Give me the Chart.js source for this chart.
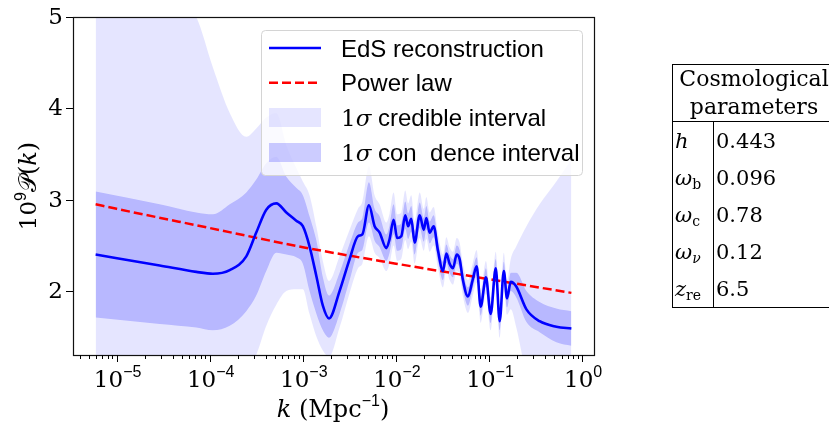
<!DOCTYPE html>
<html>
<head>
<meta charset="utf-8">
<script src="https://cdn.jsdelivr.net/npm/chart.js@4.4.1/dist/chart.umd.min.js"></script>
<style>
  html, body { margin: 0; padding: 0; background: #fff; }
  #wrap { position: relative; width: 829px; height: 429px; overflow: hidden; }
  #plot { position: absolute; left: 0; top: 0; }
  #params {
    position: absolute; left: 672px; top: 64px; width: 164px;
    border-collapse: collapse; border: 1px solid #000;
    font-family: 'DejaVu Serif', serif; font-size: 21px; color: #000;
  }
  #params th { font-weight: normal; font-size: 22px; border-bottom: 1px solid #000; height: 56px; line-height: 28px; padding: 0; }
  #params td { height: 37px; padding: 0 0 0 2px; white-space: nowrap; }
  #params td.sym { width: 38px; border-right: 1px solid #000; }
  #params sub { font-size: 14px; vertical-align: -4px; line-height: 0; font-style: normal; }
</style>
</head>
<body>
<div id="wrap">
  <canvas id="plot" width="829" height="429"></canvas>
  <table id="params"></table>
</div>
<script>
// k in Mpc^-1, values are 10^9 P(k)
const kGrid = [5.95e-6, 2.9e-5, 7.18e-5, 1.08e-4, 1.64e-4, 2.47e-4, 3.16e-4, 4.05e-4, 5.19e-4, 6.65e-4,
  8.5e-4, 1e-3, 1.18e-3, 1.4e-3, 1.64e-3, 1.91e-3, 2.48e-3, 3.18e-3, 3.91e-3, 4.36e-3,
  5.13e-3, 5.9e-3, 6.68e-3, 7.88e-3, 8.55e-3, 9.44e-3, 1.03e-2, 1.14e-2, 1.26e-2, 1.35e-2,
  1.46e-2, 1.59e-2, 1.8e-2, 1.99e-2, 2.12e-2, 2.3e-2, 2.54e-2, 2.83e-2, 3.2e-2, 3.48e-2,
  3.77e-2, 4.1e-2, 4.49e-2, 4.83e-2, 5.24e-2, 5.93e-2, 6.66e-2, 7.36e-2, 8.13e-2, 9.26e-2,
  0.104, 0.118, 0.130, 0.144, 0.156, 0.171, 0.196, 0.252, 0.349, 0.528, 0.766];

const edsValues = [2.40, 2.28, 2.21, 2.19, 2.23, 2.38, 2.64, 2.89, 2.96, 2.86,
  2.77, 2.71, 2.49, 2.16, 1.84, 1.70, 2.00, 2.35, 2.60, 2.62,
  2.94, 2.71, 2.64, 2.47, 2.57, 2.78, 2.58, 2.60, 2.83, 2.71,
  2.79, 2.53, 2.83, 2.67, 2.80, 2.64, 2.71, 2.44, 2.22, 2.41,
  2.30, 2.25, 2.40, 2.35, 2.12, 1.94, 2.12, 2.27, 1.83, 2.15,
  1.75, 2.25, 1.67, 2.22, 1.92, 2.10, 2.05, 1.80, 1.67, 1.61, 1.59];

const confUpper = [3.09, 2.95, 2.86, 2.84, 2.95, 3.08, 3.22, 3.40, 3.47, 3.25,
  3.13, 3.05, 2.82, 2.55, 2.15, 1.95, 2.20, 2.52, 2.75, 2.80,
  3.19, 2.90, 2.82, 2.62, 2.72, 2.95, 2.72, 2.74, 2.98, 2.85,
  2.93, 2.66, 2.97, 2.80, 2.93, 2.76, 2.83, 2.55, 2.32, 2.51,
  2.40, 2.35, 2.50, 2.45, 2.22, 2.04, 2.22, 2.37, 1.93, 2.25,
  1.85, 2.35, 1.77, 2.32, 2.02, 2.20, 2.20, 2.00, 1.88, 1.81, 1.78];

const confLower = [1.71, 1.64, 1.60, 1.57, 1.62, 1.78, 1.95, 2.22, 2.42, 2.40,
  2.37, 2.30, 2.00, 1.75, 1.57, 1.49, 1.75, 2.12, 2.42, 2.45,
  2.75, 2.55, 2.48, 2.33, 2.42, 2.62, 2.44, 2.46, 2.68, 2.57,
  2.65, 2.40, 2.69, 2.54, 2.67, 2.52, 2.59, 2.33, 2.12, 2.31,
  2.20, 2.15, 2.30, 2.25, 2.02, 1.84, 2.02, 2.17, 1.73, 2.05,
  1.65, 2.15, 1.57, 2.12, 1.82, 2.00, 1.93, 1.66, 1.55, 1.44, 1.40];

const credUpper = [5.5, 5.5, 5.0, 4.45, 3.95, 3.69, 3.78, 3.90, 3.95, 3.60,
  3.35, 3.20, 3.05, 2.70, 2.33, 2.11, 2.38, 2.67, 2.90, 2.98,
  3.37, 3.05, 2.95, 2.75, 2.85, 3.08, 2.84, 2.86, 3.10, 2.96,
  3.05, 2.77, 3.08, 2.90, 3.03, 2.86, 2.92, 2.63, 2.40, 2.59,
  2.48, 2.43, 2.58, 2.53, 2.30, 2.12, 2.30, 2.45, 2.01, 2.33,
  1.93, 2.43, 1.85, 2.42, 2.12, 2.35, 2.49, 2.71, 2.95, 3.20, 3.44];

const credLower = [1.0, 1.0, 1.0, 1.0, 1.0, 1.1, 1.30, 1.62, 1.85, 2.00,
  2.02, 2.02, 1.75, 1.50, 1.35, 1.28, 1.60, 1.98, 2.25, 2.30,
  2.60, 2.42, 2.36, 2.22, 2.30, 2.50, 2.33, 2.35, 2.56, 2.46,
  2.54, 2.30, 2.58, 2.44, 2.57, 2.43, 2.50, 2.25, 2.04, 2.23,
  2.12, 2.07, 2.22, 2.17, 1.94, 1.76, 1.94, 2.09, 1.65, 1.97,
  1.57, 2.07, 1.49, 2.04, 1.74, 1.80, 1.60, 1.10, 0.9, 0.8, 0.7];

const powerK = [5.95e-6, 1e-5, 1e-4, 1e-3, 1e-2, 1e-1, 0.766];
const powerValues = [2.95, 2.90, 2.69, 2.48, 2.30, 2.13, 1.98];

const xTickPowers = [-5, -4, -3, -2, -1, 0];
const yTickValues = [2, 3, 4, 5];
const legendLabels = ['EdS reconstruction', 'Power law', '1σ credible interval', '1σ con  dence interval'];

const paramSymbols = ['h', 'ω', 'ω', 'ω', 'z'];
const paramSubs = ['', 'b', 'c', 'ν', 're'];
const paramValues = ['0.443', '0.096', '0.78', '0.12', '6.5'];

const BLUE = '#0000ff';
const RED = '#ff0000';
const CRED_FILL = 'rgba(0,0,255,0.1)';
const CONF_FILL = 'rgba(0,0,255,0.2)';
const SERIF = "'DejaVu Serif', serif";
const SANS = "'Liberation Sans', Arial, sans-serif";

function toPoints(xs, ys) {
  return xs.map((x, i) => ({ x: x, y: ys[i] }));
}

// table on the right
const table = document.getElementById('params');
let rows = '<tr><th colspan="2">Cosmological<br>parameters</th></tr>';
paramSymbols.forEach((s, i) => {
  const sub = paramSubs[i] ? '<sub>' + (paramSubs[i] === 'ν' ? '<i>ν</i>' : paramSubs[i]) + '</sub>' : '';
  rows += '<tr><td class="sym"><i>' + s + '</i>' + sub + '</td><td>' + paramValues[i] + '</td></tr>';
});
table.innerHTML = rows;

// draws a list of text runs [{t, font, dy}] starting at x
function drawRuns(ctx, x, y, runs, align) {
  let total = 0;
  runs.forEach(r => { ctx.font = r.font; total += ctx.measureText(r.t).width; });
  let cx = align === 'center' ? x - total / 2 : (align === 'right' ? x - total : x);
  ctx.textAlign = 'left';
  runs.forEach(r => {
    ctx.font = r.font;
    ctx.fillText(r.t, cx, y + (r.dy || 0));
    cx += ctx.measureText(r.t).width;
  });
}

const axesDecor = {
  id: 'axesDecor',
  afterDatasetsDraw(chart) {
    const ctx = chart.ctx;
    const area = chart.chartArea;
    const xs = chart.scales.x;
    const ys = chart.scales.y;
    ctx.save();

    // legend
    const lx = 261.5, ly = 30.5, lw = 321, lh = 145;
    ctx.beginPath();
    ctx.roundRect(lx, ly, lw, lh, 4);
    ctx.fillStyle = 'rgba(255,255,255,0.8)';
    ctx.fill();
    ctx.strokeStyle = '#d4d4d4';
    ctx.lineWidth = 1;
    ctx.stroke();

    const rowBase = [56.7, 91.4, 126.1, 160.8];
    ctx.lineWidth = 2.6;
    ctx.strokeStyle = BLUE;
    ctx.beginPath(); ctx.moveTo(269, 48); ctx.lineTo(321, 48); ctx.stroke();
    ctx.strokeStyle = RED;
    ctx.lineWidth = 2.5;
    ctx.setLineDash([9, 4]);
    ctx.beginPath(); ctx.moveTo(269, 82.7); ctx.lineTo(321, 82.7); ctx.stroke();
    ctx.setLineDash([]);
    ctx.fillStyle = CRED_FILL;
    ctx.fillRect(269, 108, 52, 19);
    ctx.fillStyle = CONF_FILL;
    ctx.fillRect(269, 143, 52, 19);

    ctx.fillStyle = '#000';
    ctx.textBaseline = 'alphabetic';
    ctx.font = '24px ' + SANS;
    ctx.fillText(legendLabels[0], 341, rowBase[0]);
    ctx.fillText(legendLabels[1], 341, rowBase[1]);
    [2, 3].forEach(i => {
      const rest = legendLabels[i].slice(2);
      drawRuns(ctx, 341, rowBase[i], [
        { t: '1', font: '23px ' + SERIF },
        { t: 'σ', font: 'italic 23px ' + SERIF },
        { t: rest, font: '24px ' + SANS }
      ], 'left');
    });

    // frame
    ctx.strokeStyle = '#111';
    ctx.lineWidth = 1.2;
    ctx.strokeRect(Math.round(area.left) + 0.5, Math.round(area.top) + 0.5,
      Math.round(area.right - area.left), Math.round(area.bottom - area.top));

    // y ticks
    ctx.lineWidth = 1;
    ctx.strokeStyle = '#000';
    ctx.fillStyle = '#000';
    yTickValues.forEach(v => {
      const py = Math.round(ys.getPixelForValue(v)) + 0.5;
      ctx.beginPath(); ctx.moveTo(area.left, py); ctx.lineTo(area.left - 7, py); ctx.stroke();
      ctx.font = '23px ' + SERIF;
      ctx.textAlign = 'right';
      ctx.textBaseline = 'middle';
      ctx.fillText(String(v), 63, py + 1);
    });

    // x ticks, major and minor
    ctx.textBaseline = 'alphabetic';
    for (let p = -6; p <= 0; p++) {
      for (let m = 1; m <= 9; m++) {
        const v = m * Math.pow(10, p);
        if (v < xs.min || v > xs.max) continue;
        const px = Math.round(xs.getPixelForValue(v)) + 0.5;
        const len = m === 1 ? 7 : 4;
        ctx.beginPath(); ctx.moveTo(px, area.bottom); ctx.lineTo(px, area.bottom + len); ctx.stroke();
      }
    }
    xTickPowers.forEach(p => {
      const px = xs.getPixelForValue(Math.pow(10, p));
      const sup = p === 0 ? '0' : '−' + Math.abs(p);
      drawRuns(ctx, px + 1, 386.5, [
        { t: '10', font: '23px ' + SERIF },
        { t: sup, font: '16px ' + SANS, dy: -10 }
      ], 'center');
    });

    // axis titles
    drawRuns(ctx, 333, 417, [
      { t: 'k', font: 'italic 24px ' + SERIF },
      { t: ' (Mpc', font: '24px ' + SERIF },
      { t: '−1', font: '16px ' + SANS, dy: -11 },
      { t: ')', font: '24px ' + SERIF }
    ], 'center');

    ctx.translate(36, 186);
    ctx.rotate(-Math.PI / 2);
    drawRuns(ctx, 0, 0, [
      { t: '10', font: '23px ' + SERIF },
      { t: '9', font: '16px ' + SANS, dy: -10 },
      { t: '𝒫', font: '24px ' + SERIF },
      { t: '(', font: '24px ' + SERIF },
      { t: 'k', font: 'italic 24px ' + SERIF },
      { t: ')', font: '24px ' + SERIF }
    ], 'center');
    ctx.restore();
  }
};

const lineOpts = { pointRadius: 0, cubicInterpolationMode: 'monotone' };

new Chart(document.getElementById('plot'), {
  type: 'line',
  data: {
    datasets: [
      Object.assign({ label: legendLabels[0], data: toPoints(kGrid, edsValues),
        borderColor: BLUE, borderWidth: 2.6, fill: false }, lineOpts),
      Object.assign({ label: legendLabels[1], data: toPoints(powerK, powerValues),
        borderColor: RED, borderWidth: 2.5, borderDash: [9, 4], fill: false }, lineOpts),
      Object.assign({ label: legendLabels[3], data: toPoints(kGrid, confUpper),
        borderColor: 'transparent', borderWidth: 0, backgroundColor: CONF_FILL, fill: '+1' }, lineOpts),
      Object.assign({ label: 'conf lower', data: toPoints(kGrid, confLower),
        borderColor: 'transparent', borderWidth: 0, fill: false }, lineOpts),
      Object.assign({ label: legendLabels[2], data: toPoints(kGrid, credUpper),
        borderColor: 'transparent', borderWidth: 0, backgroundColor: CRED_FILL, fill: '+1' }, lineOpts),
      Object.assign({ label: 'cred lower', data: toPoints(kGrid, credLower),
        borderColor: 'transparent', borderWidth: 0, fill: false }, lineOpts)
    ]
  },
  options: {
    responsive: false,
    animation: false,
    layout: { padding: { left: 73, right: 235, top: 17, bottom: 74 } },
    plugins: { legend: { display: false }, tooltip: { enabled: false } },
    scales: {
      x: { type: 'logarithmic', min: 3.4e-6, max: 1.34, display: false },
      y: { type: 'linear', min: 1.30, max: 5.0, display: false }
    }
  },
  plugins: [axesDecor]
});
</script>
</body>
</html>
